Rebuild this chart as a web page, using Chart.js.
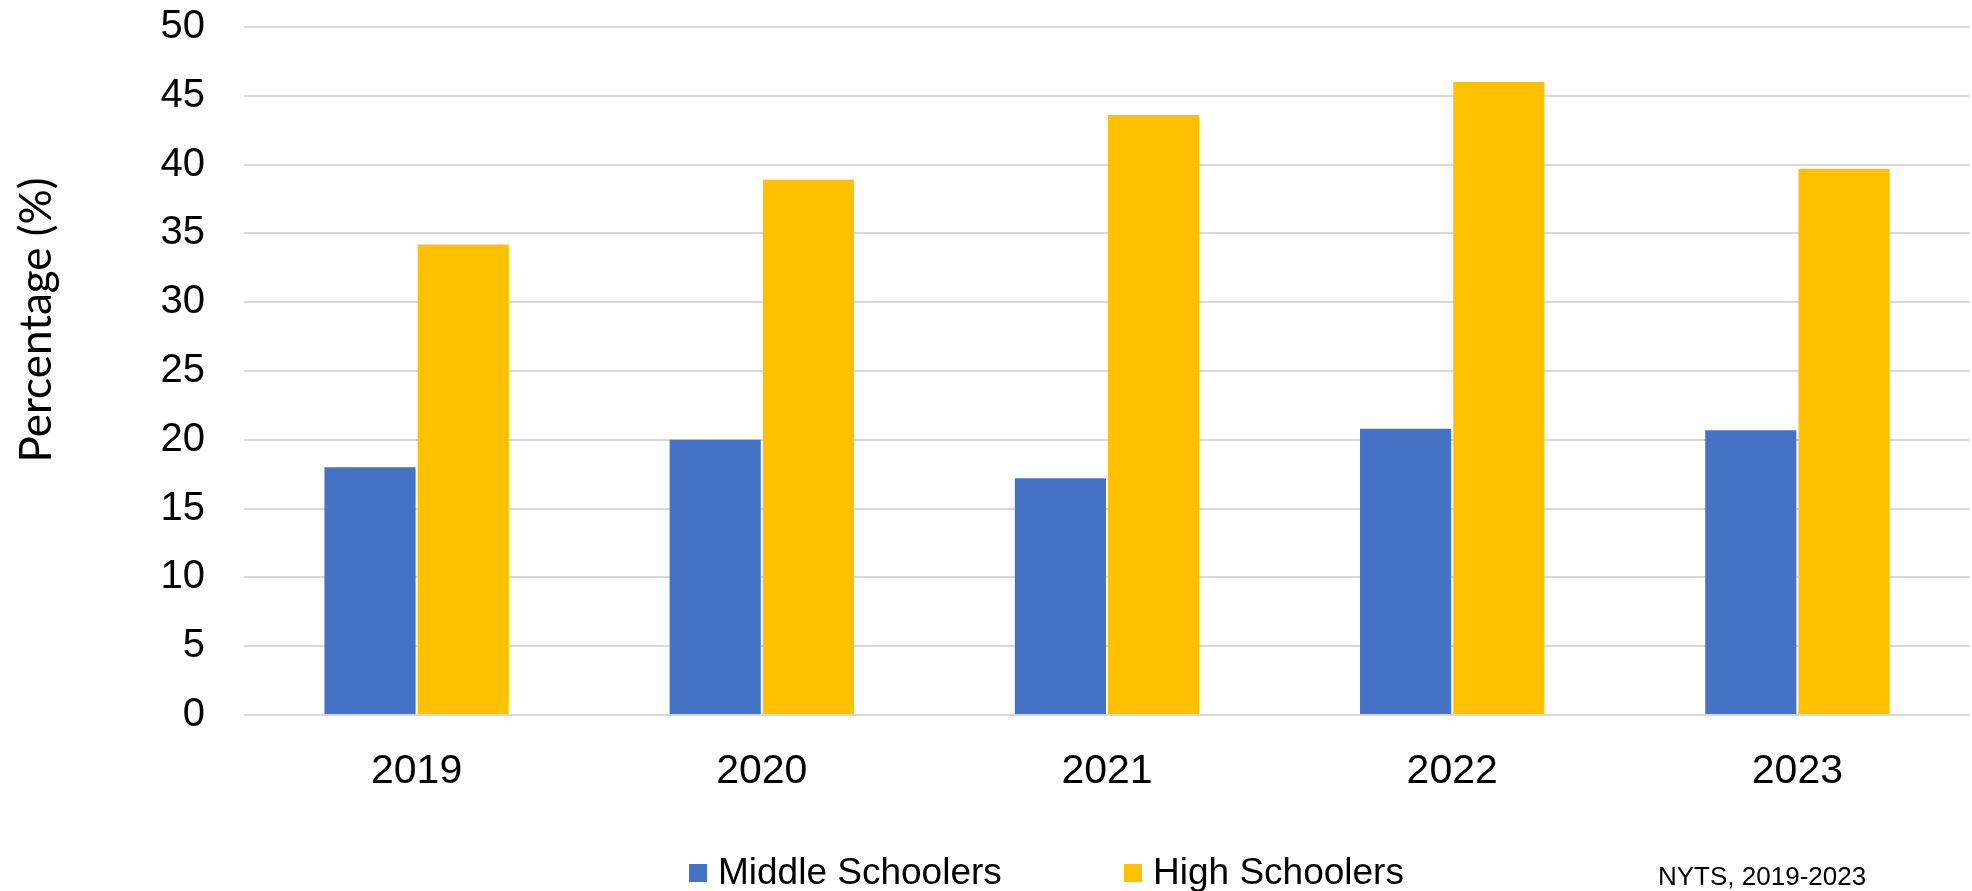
<!DOCTYPE html>
<html>
<head>
<meta charset="utf-8">
<script src="https://cdn.jsdelivr.net/npm/chart.js@4.4.1/dist/chart.umd.min.js"></script>
<style>
  html, body { margin: 0; padding: 0; background: #ffffff; }
  #wrap { width: 1972px; height: 891px; position: relative; }
</style>
</head>
<body>
<div id="wrap"><canvas id="chart" width="1972" height="891"></canvas></div>
<script>
// Survey years and shares of students (%) per group
const years = ['2019', '2020', '2021', '2022', '2023'];
const middleSchoolers = [18.0, 20.0, 17.2, 20.8, 20.7];
const highSchoolers = [34.2, 38.9, 43.6, 46.0, 39.7];
const seriesNames = ['Middle Schoolers', 'High Schoolers'];
const yTicks = [0, 5, 10, 15, 20, 25, 30, 35, 40, 45, 50];
const yTitle = 'Percentage (%)';
const sourceNote = 'NYTS, 2019-2023';

const BLUE = '#4472C4';
const GOLD = '#FFC000';
const SANS = '"Liberation Sans", Arial, sans-serif';

// Axis title, legend row and source note drawn around the plot
const annotations = {
  id: 'annotations',
  afterDraw(chart) {
    const ctx = chart.ctx;
    ctx.save();

    ctx.save();
    ctx.translate(37, 320);
    ctx.rotate(-Math.PI / 2);
    ctx.font = '44px Lato, "Open Sans", sans-serif';
    ctx.fillStyle = '#000';
    ctx.textAlign = 'center';
    ctx.textBaseline = 'middle';
    ctx.fillText(yTitle, 0, 0);
    ctx.restore();

    ctx.font = '37px ' + SANS;
    ctx.textBaseline = 'middle';
    const items = chart.data.datasets.map(d => ({ label: d.label, color: d.backgroundColor }));
    const startX = [689, 1124];
    const yMid = 873;
    items.forEach((it, i) => {
      ctx.fillStyle = it.color;
      ctx.fillRect(startX[i], yMid - 9, 18, 18);
      ctx.fillStyle = '#000';
      ctx.textAlign = 'left';
      ctx.fillText(it.label, startX[i] + 29, yMid + 1);
    });
    ctx.font = '26px ' + SANS;
    ctx.textAlign = 'left';
    ctx.fillText(sourceNote, 1658, 878);
    ctx.restore();
  }
};

new Chart(document.getElementById('chart'), {
  type: 'bar',
  data: {
    labels: years,
    datasets: [
      { label: seriesNames[0], data: middleSchoolers, backgroundColor: BLUE, borderWidth: 0,
        categoryPercentage: 0.54, barPercentage: 0.978 },
      { label: seriesNames[1], data: highSchoolers, backgroundColor: GOLD, borderWidth: 0,
        categoryPercentage: 0.54, barPercentage: 0.978 }
    ]
  },
  options: {
    responsive: false,
    animation: false,
    devicePixelRatio: 1,
    layout: { padding: { top: 27, right: 2, bottom: 0, left: 0 } },
    plugins: {
      legend: { display: false },
      tooltip: { enabled: false }
    },
    scales: {
      x: {
        grid: { display: false, drawTicks: false },
        border: { display: false },
        ticks: { color: '#000', font: { family: SANS, size: 41 }, padding: 32 },
        afterFit(scale) { scale.height = 176; }
      },
      y: {
        min: 0,
        max: 50,
        afterBuildTicks(scale) { scale.ticks = yTicks.map(v => ({ value: v })); },
        grid: { color: '#d9d9d9', lineWidth: 2, drawTicks: false },
        border: { display: false },
        ticks: { color: '#000', font: { family: SANS, size: 40 }, padding: 39 },
        afterFit(scale) {
          scale.width = 244;
          scale.paddingTop = 0;
          scale.paddingBottom = 0;
        }
      }
    }
  },
  plugins: [annotations]
});
</script>
</body>
</html>
